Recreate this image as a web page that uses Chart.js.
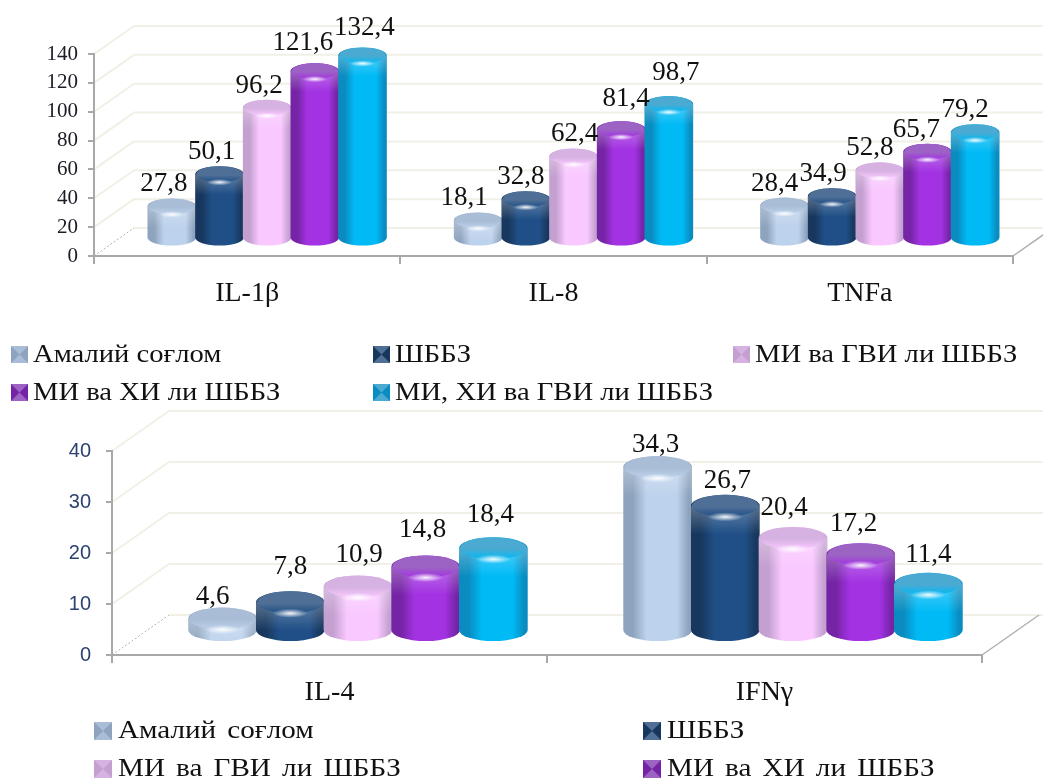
<!DOCTYPE html>
<html>
<head>
<meta charset="utf-8">
<title>Цитокинлар</title>
<script src="https://cdn.jsdelivr.net/npm/chart.js@4/dist/chart.umd.min.js"></script>
<style>
    body { margin: 0; background: #fff; }
    canvas { position: absolute; left: 0; }
    #chartTop { top: 0; }
    #chartBottom { top: 408px; }
</style>
</head>
<body>
<canvas id="chartTop" width="1043" height="408"></canvas>
<canvas id="chartBottom" width="1043" height="372"></canvas>
<script>
const seriesNames = ['Амалий соғлом', 'ШББЗ', 'МИ ва ГВИ ли ШББЗ', 'МИ ва ХИ ли ШББЗ', 'МИ, ХИ ва ГВИ ли ШББЗ'];

const topCategories = ['IL-1β', 'IL-8', 'TNFa'];
const topHealthy = [27.8, 18.1, 28.4];
const topShbbz = [50.1, 32.8, 34.9];
const topMiGvi = [96.2, 62.4, 52.8];
const topMiXi = [121.6, 81.4, 65.7];
const topMiXiGvi = [132.4, 98.7, 79.2];

const bottomCategories = ['IL-4', 'IFNγ'];
const bottomHealthy = [4.6, 34.3];
const bottomShbbz = [7.8, 26.7];
const bottomMiGvi = [10.9, 20.4];
const bottomMiXi = [14.8, 17.2];
const bottomMiXiGvi = [18.4, 11.4];

// edge, middle, lid
const palette = [
    ['#8ea4be', '#bdd2ec', '#a9bdd6'],
    ['#17375e', '#1f4f86', '#4f6f96'],
    ['#c4a0d0', '#f9c8ff', '#d6b2e2'],
    ['#7424a4', '#a232e2', '#9c62c4'],
    ['#0a8cc0', '#00baf6', '#4aaad2']
];

// value labels get pushed around so they don't sit on each other
const topLabelDx = [[-8, -14, -10], [-8, -5, -9], [-8, 1, -10], [-12, 5, -11], [2, 7, -10]];
const topLabelDy = [[0, 0, 0], [0, 0, 0], [0, 0, 0], [-6, -8, 0], [-5, -9, 0]];
const bottomLabelDx = [[-10, -2], [0, 2], [1, -9], [-3, -7], [-3, 0]];
const bottomLabelDy = [[0, 0], [-13, -3], [-9, -8], [-15, -8], [-11, -7]];

function drawCylinder(ctx, cx, w, top, base, ry, colors) {
    const left = cx - w / 2, right = cx + w / 2;
    const body = new Path2D();
    body.moveTo(left, top);
    body.lineTo(left, base - ry);
    body.ellipse(cx, base - ry, w / 2, ry, 0, Math.PI, 0, true);
    body.lineTo(right, top);
    body.ellipse(cx, top, w / 2, ry, 0, 0, Math.PI, true);
    body.closePath();

    let side = ctx.createLinearGradient(left, 0, right, 0);
    side.addColorStop(0, colors[0]);
    side.addColorStop(0.14, colors[0]);
    side.addColorStop(0.34, colors[1]);
    side.addColorStop(0.78, colors[1]);
    side.addColorStop(0.95, colors[0]);
    side.addColorStop(1, colors[0]);
    ctx.fillStyle = side;
    ctx.fill(body);

    // light band just under the lid
    ctx.save();
    ctx.clip(body);
    let band = ctx.createLinearGradient(0, top + ry * 0.4, 0, top + ry * 2.6);
    band.addColorStop(0, 'rgba(255,255,255,0.25)');
    band.addColorStop(1, 'rgba(255,255,255,0)');
    ctx.fillStyle = band;
    ctx.fillRect(left, top, w, ry * 3);
    ctx.restore();

    // lid fades into the body towards the front
    let lid = ctx.createLinearGradient(0, top - ry, 0, top + ry);
    lid.addColorStop(0, colors[2]);
    lid.addColorStop(0.55, colors[2]);
    lid.addColorStop(1, colors[1]);
    ctx.beginPath();
    ctx.ellipse(cx, top, w / 2 - 1, ry, 0, 0, Math.PI * 2);
    ctx.fillStyle = lid;
    ctx.fill();

    // small shine on the front rim
    ctx.save();
    ctx.translate(cx, top + ry);
    ctx.scale(1, 0.25);
    let shine = ctx.createRadialGradient(0, 0, 0, 0, 0, w * 0.26);
    shine.addColorStop(0, 'rgba(255,255,255,0.95)');
    shine.addColorStop(1, 'rgba(255,255,255,0)');
    ctx.fillStyle = shine;
    ctx.beginPath();
    ctx.arc(0, 0, w * 0.26, 0, Math.PI * 2);
    ctx.fill();
    ctx.restore();
}

function drawSwatch(ctx, x, y, size, colors) {
    const c = size / 2;
    const m = size * 0.22;
    const sides = [
        [[0, 0], [size, 0], [size - m, c], [m, c], colors[2]],
        [[0, size], [size, size], [size - m, c], [m, c], colors[2]],
        [[0, 0], [0, size], [c, c], [c, c], colors[0]],
        [[size, 0], [size, size], [c, c], [c, c], colors[0]]
    ];
    ctx.save();
    ctx.translate(x, y);
    ctx.fillStyle = colors[1];
    ctx.fillRect(0, 0, size, size);
    sides.forEach(function (s) {
        ctx.beginPath();
        ctx.moveTo(s[0][0], s[0][1]);
        ctx.lineTo(s[1][0], s[1][1]);
        ctx.lineTo(s[2][0], s[2][1]);
        ctx.lineTo(s[3][0], s[3][1]);
        ctx.closePath();
        ctx.fillStyle = s[4];
        ctx.fill();
    });
    ctx.restore();
}

const cylinderPlugin = {
    id: 'cylinders',
    // back walls and floor go under the axes
    beforeDraw(chart, args, opts) {
        const ctx = chart.ctx;
        const area = chart.chartArea;
        const y = chart.scales.y;
        ctx.save();
        ctx.lineWidth = 2;
        y.ticks.forEach(function (t) {
            const py = y.getPixelForValue(t.value);
            ctx.strokeStyle = '#f1f0e6';
            ctx.beginPath();
            ctx.moveTo(area.left + opts.depthX, py - opts.depthY);
            ctx.lineTo(chart.width, py - opts.depthY);
            ctx.stroke();
            if (t.value !== 0) {
                ctx.beginPath();
                ctx.moveTo(area.left, py);
                ctx.lineTo(area.left + opts.depthX, py - opts.depthY);
                ctx.stroke();
            }
        });
        ctx.lineWidth = 1;
        ctx.strokeStyle = '#b4b4aa';
        ctx.setLineDash([2, 2]);
        ctx.beginPath();
        ctx.moveTo(area.left, area.bottom);
        ctx.lineTo(area.left + opts.depthX, area.bottom - opts.depthY);
        ctx.stroke();
        ctx.setLineDash([]);
        ctx.lineWidth = 1.5;
        ctx.strokeStyle = '#b0b0b0';
        ctx.beginPath();
        ctx.moveTo(area.right, area.bottom);
        ctx.lineTo(area.right + opts.depthX, area.bottom - opts.depthY);
        ctx.stroke();
        ctx.restore();
    },
    beforeDatasetsDraw(chart, args, opts) {
        const ctx = chart.ctx;
        const shiftX = opts.depthX / 2;
        ctx.save();
        chart.data.datasets.forEach(function (ds, d) {
            const meta = chart.getDatasetMeta(d);
            meta.data.forEach(function (bar) {
                drawCylinder(ctx, bar.x + shiftX, bar.width + 1, bar.y + opts.shiftY, bar.base + opts.shiftY, opts.lidRy, palette[d]);
            });
        });
        ctx.fillStyle = '#111';
        ctx.font = opts.labelFont;
        ctx.textAlign = 'center';
        ctx.textBaseline = 'alphabetic';
        chart.data.datasets.forEach(function (ds, d) {
            const meta = chart.getDatasetMeta(d);
            meta.data.forEach(function (bar, i) {
                const text = ds.data[i].toFixed(1).replace('.', ',');
                ctx.fillText(text, bar.x + shiftX + opts.labelDx[d][i], bar.y + opts.shiftY - opts.labelGap + opts.labelDy[d][i]);
            });
        });
        ctx.restore();
        return false;
    },
    afterDraw(chart, args, opts) {
        const ctx = chart.ctx;
        opts.legend.forEach(function (item) {
            drawSwatch(ctx, item.x - opts.swatchGap, item.y - opts.swatchDrop, opts.swatch, palette[item.series]);
            ctx.save();
            ctx.font = opts.legendFont;
            ctx.wordSpacing = opts.legendWordSpacing;
            ctx.fillStyle = '#111';
            ctx.textBaseline = 'alphabetic';
            ctx.textAlign = 'left';
            // the legend type runs a little wide
            ctx.translate(item.x, item.y);
            ctx.scale(opts.legendStretch, 1);
            ctx.fillText(seriesNames[item.series], 0, 0);
            ctx.restore();
        });
    }
};

function makeDatasets(rows) {
    return rows.map(function (values, i) {
        return { label: seriesNames[i], data: values, backgroundColor: palette[i][1] };
    });
}

function crearGrafica(id, categories, rows, setup) {
    new Chart(document.getElementById(id), {
        type: 'bar',
        data: { labels: categories, datasets: makeDatasets(rows) },
        plugins: [cylinderPlugin],
        options: {
            responsive: false,
            animation: false,
            layout: { padding: { top: setup.top, right: setup.right, left: 0, bottom: 0 } },
            datasets: { bar: { categoryPercentage: 0.778, barPercentage: 1 } },
            scales: {
                x: {
                    afterFit(scale) { scale.height = setup.xHeight; },
                    grid: { drawOnChartArea: false, tickLength: 8, color: '#a8a8a8', lineWidth: 2 },
                    border: { color: '#a8a8a8', width: 2 },
                    ticks: { color: '#111', font: { family: 'Liberation Serif', size: setup.xSize }, padding: setup.xPad, maxRotation: 0 }
                },
                y: {
                    min: 0,
                    max: setup.max,
                    afterFit(scale) { scale.width = setup.yWidth; },
                    grid: { drawOnChartArea: false, tickLength: 6, color: '#a8a8a8', lineWidth: 2 },
                    border: { color: '#a8a8a8', width: 2 },
                    ticks: { stepSize: setup.step, color: setup.yColor, font: setup.yFont, padding: setup.yPad }
                }
            },
            plugins: {
                legend: { display: false },
                tooltip: { enabled: false },
                cylinders: setup.cylinders
            }
        }
    });
}

crearGrafica('chartTop', topCategories, [topHealthy, topShbbz, topMiGvi, topMiXi, topMiXiGvi], {
    top: 54, right: 30, xHeight: 152, yWidth: 94, max: 140, step: 20,
    xSize: 28, xPad: 13, yPad: 10, yColor: '#1b1b26',
    yFont: { family: 'Liberation Serif', size: 21 },
    cylinders: {
        depthX: 40, depthY: 28, shiftY: -9.5, lidRy: 8, labelGap: 15,
        labelDx: topLabelDx, labelDy: topLabelDy,
        labelFont: '27px "Liberation Serif"',
        legendFont: '26px "Liberation Serif"', legendWordSpacing: '0px', legendStretch: 1.1,
        swatch: 17, swatchGap: 22, swatchDrop: 16,
        legend: [
            { series: 0, x: 33, y: 362 },
            { series: 1, x: 395, y: 362 },
            { series: 2, x: 755, y: 362 },
            { series: 3, x: 33, y: 400 },
            { series: 4, x: 395, y: 400 }
        ]
    }
});

crearGrafica('chartBottom', bottomCategories, [bottomHealthy, bottomShbbz, bottomMiGvi, bottomMiXi, bottomMiXiGvi], {
    top: 43, right: 61, xHeight: 125, yWidth: 112, max: 40, step: 10,
    xSize: 28, xPad: 13, yPad: 15, yColor: '#2c4272',
    yFont: { family: 'Liberation Sans', size: 20 },
    cylinders: {
        depthX: 57, depthY: 40, shiftY: -13, lidRy: 11, labelGap: 15,
        labelDx: bottomLabelDx, labelDy: bottomLabelDy,
        labelFont: '27px "Liberation Serif"',
        legendFont: '26px "Liberation Serif"', legendWordSpacing: '3.5px', legendStretch: 1.12,
        swatch: 18, swatchGap: 24, swatchDrop: 16,
        legend: [
            { series: 0, x: 118, y: 330 },
            { series: 1, x: 667, y: 330 },
            { series: 2, x: 118, y: 368 },
            { series: 3, x: 667, y: 368 }
        ]
    }
});
</script>
</body>
</html>
